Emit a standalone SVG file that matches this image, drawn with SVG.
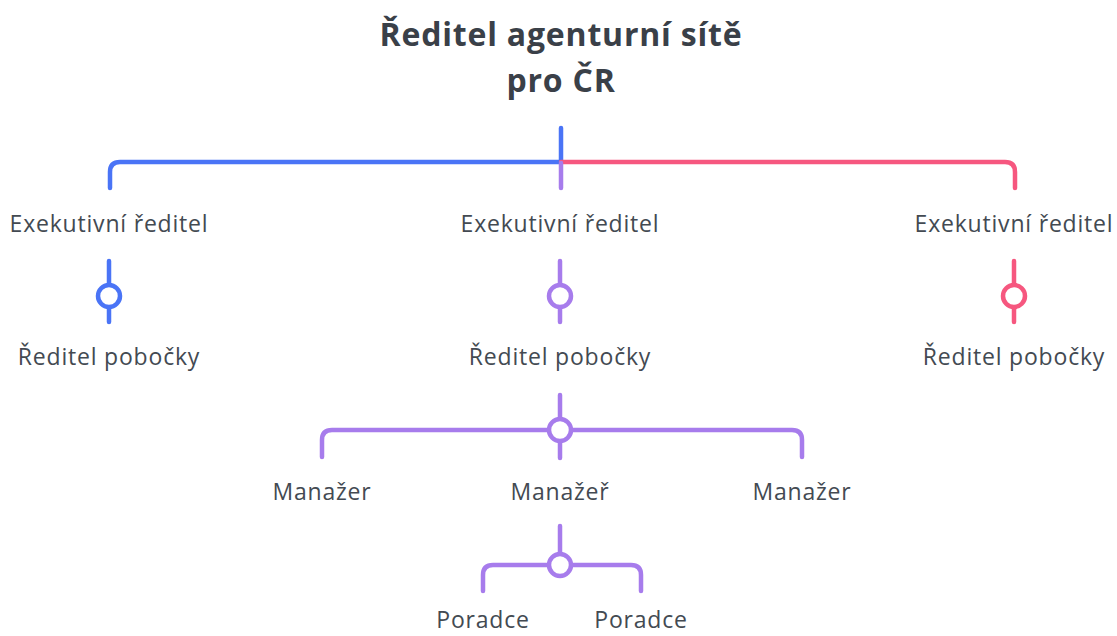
<svg xmlns="http://www.w3.org/2000/svg" width="1117" height="636" viewBox="0 0 1117 636">
<style>
.t{font-family:"Open Sans","Noto Sans",sans-serif;font-size:23px;letter-spacing:0.8px;fill:#434a52;text-anchor:middle}
.h{font-family:"Open Sans","Noto Sans",sans-serif;font-size:32px;letter-spacing:0.8px;font-weight:bold;fill:#3a4048;text-anchor:middle}
.l{fill:none;stroke-width:4.5;stroke-linecap:round;stroke-linejoin:round}
.b{stroke:#4a74f6}.p{stroke:#f6577f}.v{stroke:#a77cec}
.c{fill:#fff;stroke-width:4.5}
</style>
<rect width="1117" height="636" fill="#fff"/>
<g id="connectors">
<path class="l b" d="M561 128V162"/>
<path class="l b" d="M110 188V172Q110 162 120 162H561"/>
<path class="l p" d="M561 162H1005Q1015 162 1015 172V188"/>
<path class="l v" d="M561 163V188"/>
<path class="l b" d="M109 261V322"/>
<path class="l v" d="M560 261V322"/>
<path class="l p" d="M1014 261V322"/>
<path class="l v" d="M560 395V458"/>
<path class="l v" d="M322 457V440Q322 430 332 430H792Q802 430 802 440V457"/>
<path class="l v" d="M560 526V565"/>
<path class="l v" d="M483 591V575Q483 565 493 565H631Q641 565 641 575V591"/>
<circle class="c b" cx="109" cy="296" r="11"/>
<circle class="c v" cx="560" cy="296" r="11"/>
<circle class="c p" cx="1014" cy="296" r="11"/>
<circle class="c v" cx="560" cy="430" r="11"/>
<circle class="c v" cx="560" cy="565" r="11"/>
</g>
<g id="root"><text class="h" x="561" y="46">Ředitel agenturní sítě</text><text class="h" x="561" y="92">pro ČR</text></g>
<g id="exec1"><text class="t" x="109" y="232">Exekutivní ředitel</text></g>
<g id="exec2"><text class="t" x="560" y="232">Exekutivní ředitel</text></g>
<g id="exec3"><text class="t" x="1014" y="232">Exekutivní ředitel</text></g>
<g id="branch1"><text class="t" x="109" y="365">Ředitel pobočky</text></g>
<g id="branch2"><text class="t" x="560" y="365">Ředitel pobočky</text></g>
<g id="branch3"><text class="t" x="1014" y="365">Ředitel pobočky</text></g>
<g id="mgr1"><text class="t" x="322" y="500">Manažer</text></g>
<g id="mgr2"><text class="t" x="560" y="500">Manažeř</text></g>
<g id="mgr3"><text class="t" x="802" y="500">Manažer</text></g>
<g id="adv1"><text class="t" x="483" y="628">Poradce</text></g>
<g id="adv2"><text class="t" x="641" y="628">Poradce</text></g>
</svg>
